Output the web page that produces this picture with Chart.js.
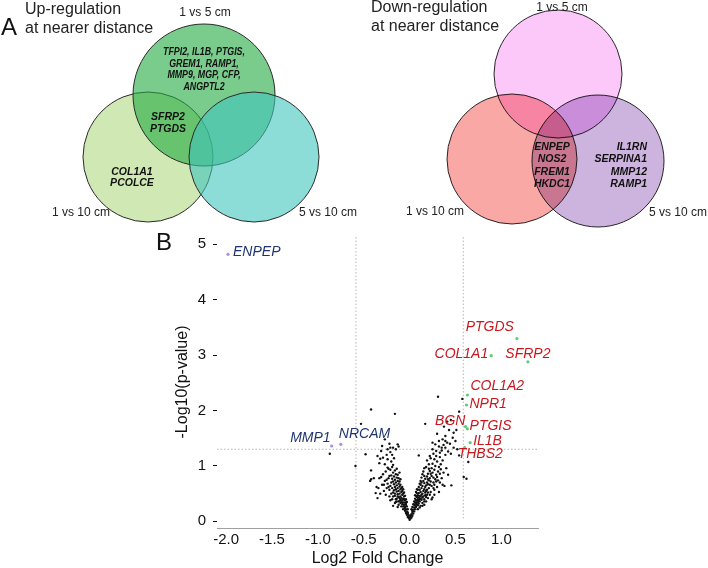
<!DOCTYPE html>
<html>
<head>
<meta charset="utf-8">
<script src="https://cdn.jsdelivr.net/npm/chart.js@4.4.1/dist/chart.umd.min.js"></script>
<style>
  html, body { margin: 0; padding: 0; background: #fff; }
  body { width: 708px; height: 568px; position: relative; overflow: hidden; }
  canvas { position: absolute; }
  #vennUp { left: 0; top: 0; }
  #vennDown { left: 354px; top: 0; }
  #volcano { left: 0; top: 220px; }
</style>
</head>
<body>
<canvas id="vennUp" width="372" height="228"></canvas>
<canvas id="vennDown" width="354" height="228"></canvas>
<canvas id="volcano" width="708" height="348"></canvas>
<script>
// ---- Panel A: gene sets ----
const setNames = ['1 vs 10 cm', '1 vs 5 cm', '5 vs 10 cm'];
const upTitle = ['Up-regulation', 'at nearer distance'];
const downTitle = ['Down-regulation', 'at nearer distance'];
const upOnly1vs5 = ['TFPI2, IL1B, PTGIS,', 'GREM1, RAMP1,', 'MMP9, MGP, CFP,', 'ANGPTL2'];
const upShared = ['SFRP2', 'PTGDS'];
const upOnly1vs10 = ['COL1A1', 'PCOLCE'];
const downShared = ['ENPEP', 'NOS2', 'FREM1', 'HKDC1'];
const downOnly5vs10 = ['IL1RN', 'SERPINA1', 'MMP12', 'RAMP1'];

// ---- Panel B: volcano ----
const xTicks = [-2.0, -1.5, -1.0, -0.5, 0.0, 0.5, 1.0];
const yTicks = [0, 1, 2, 3, 4, 5];
const fcCutoff = 0.585;   // log2(1.5)
const pCutoff = 1.301;    // -log10(0.05)

const upGenes = ['PTGDS', 'COL1A1', 'SFRP2', 'COL1A2', 'NPR1', 'BGN', 'PTGIS', 'IL1B', 'THBS2'];
const upFC    = [1.17, 0.89, 1.29, 0.63, 0.62, 0.63, 0.61, 0.66, 0.60];
const upP     = [3.30, 2.99, 2.88, 2.28, 2.10, 1.67, 1.71, 1.42, 1.33];
const downGenes = ['ENPEP', 'MMP1', 'NRCAM'];
const downFC    = [-1.98, -0.85, -0.75];
const downP     = [4.82, 1.36, 1.39];

// other genes: [log2FC, -log10 p]
const otherGenes = [
  [0.00,0.03],[0.01,0.05],[-0.01,0.06],[0.00,0.08],[0.02,0.07],[-0.02,0.08],[0.01,0.10],[-0.01,0.11],
  [0.03,0.10],[-0.03,0.12],[0.02,0.13],[-0.02,0.14],[0.04,0.14],[-0.04,0.15],[0.03,0.17],[-0.03,0.18],
  [0.05,0.18],[-0.05,0.19],[0.04,0.21],[-0.04,0.22],[0.06,0.22],[-0.06,0.23],[0.05,0.25],[-0.05,0.26],
  [0.07,0.26],[-0.07,0.27],[0.06,0.29],[-0.06,0.30],[0.08,0.30],[-0.08,0.31],[0.07,0.33],[-0.07,0.34],
  [0.09,0.34],[-0.09,0.35],[0.08,0.37],[-0.08,0.38],[0.03,0.20],[-0.02,0.16],[0.10,0.32],[-0.10,0.33],
  [0.11,0.36],[-0.11,0.37],[0.12,0.28],[-0.12,0.30],[0.14,0.33],[-0.13,0.26],[-0.15,0.35],[0.16,0.30],
  [-0.18,0.28],[0.18,0.36],[-0.05,0.34],[-0.06,0.40],[-0.04,0.30],[-0.07,0.22],[-0.09,0.27],[-0.10,0.39],
  [-0.11,0.42],[-0.12,0.36],[-0.14,0.41],[-0.13,0.45],[-0.16,0.46],[-0.15,0.40],[0.05,0.30],[0.06,0.34],
  [0.07,0.38],[0.09,0.29],[0.10,0.37],[0.11,0.40],[0.12,0.45],[0.13,0.39],[0.14,0.43],[0.16,0.40],
  [0.17,0.47],[0.18,0.44],[0.20,0.52],[0.22,0.48],
  [-0.09,0.42],[-0.07,0.41],[-0.10,0.45],[-0.08,0.48],[-0.12,0.44],[-0.11,0.50],[-0.09,0.53],[-0.13,0.49],
  [-0.12,0.55],[-0.10,0.58],[-0.14,0.54],[-0.13,0.60],[-0.11,0.63],[-0.15,0.58],[-0.14,0.65],[-0.12,0.68],
  [-0.16,0.62],[-0.15,0.70],[-0.13,0.73],[-0.17,0.67],[-0.16,0.75],[-0.14,0.79],[-0.18,0.72],[-0.17,0.81],
  [-0.19,0.77],[-0.15,0.85],[-0.20,0.83],[-0.18,0.88],[-0.21,0.64],[-0.22,0.57],[-0.20,0.50],[-0.24,0.68],
  [-0.23,0.78],[-0.25,0.60],[-0.26,0.48],[-0.28,0.55],[-0.27,0.73],[-0.30,0.66],[-0.29,0.85],[-0.32,0.50],
  [-0.33,0.78],[-0.35,0.42],[-0.37,0.51],[-0.36,0.62],[-0.42,0.76],[-0.43,0.73],[-0.42,0.92],[-0.21,0.93],
  [-0.24,0.97],[-0.19,0.98],[-0.26,0.90],[-0.16,0.92],[-0.22,0.45],[-0.18,0.52],[-0.19,0.40],
  [-0.02,0.22],[-0.03,0.27],[-0.04,0.33],[-0.05,0.38],[-0.06,0.45],[-0.07,0.50],[-0.08,0.55],[-0.09,0.60],
  [-0.10,0.66],[-0.11,0.72],[-0.04,0.40],[-0.05,0.46],[-0.06,0.52],[-0.08,0.62],[-0.03,0.35],[-0.12,0.78],
  [-0.13,0.84],[-0.10,0.76],[-0.07,0.58],[-0.16,0.50],[-0.17,0.56],[-0.19,0.60],[-0.20,0.70],[-0.22,0.82],
  [-0.14,0.36],[-0.16,0.33],[-0.18,0.45],[-0.21,0.38],[-0.23,0.62],[-0.25,0.75],[-0.28,0.66],[-0.31,0.80],
  [-0.34,0.60],[-0.39,0.78],[-0.32,1.13],[-0.23,0.95],[-0.18,1.02],[-0.14,0.95],[-0.11,0.88],
  [-0.27,1.03],[-0.33,1.05],[-0.20,1.08],[-0.24,1.12],[-0.29,1.15],[-0.17,1.14],[-0.25,1.20],[-0.31,1.27],
  [-0.21,1.25],[-0.18,1.33],[-0.13,1.39],[-0.12,1.35],[-0.21,1.33],[-0.22,1.40],[-0.27,1.48],[-0.15,1.30],
  [-0.24,1.30],[-0.35,1.18],[-0.48,1.21],[-0.59,1.00],[-0.53,1.76],[-0.42,2.02],[-0.16,1.94],[-0.87,1.22],
  [-0.30,1.36],[-0.19,1.20],
  [0.09,0.40],[0.10,0.43],[0.11,0.46],[0.12,0.41],[0.13,0.48],[0.10,0.51],[0.12,0.53],[0.14,0.50],
  [0.15,0.55],[0.11,0.57],[0.13,0.60],[0.16,0.58],[0.17,0.62],[0.14,0.64],[0.12,0.66],[0.18,0.65],
  [0.16,0.69],[0.19,0.70],[0.15,0.73],[0.20,0.67],[0.21,0.74],[0.17,0.77],[0.22,0.78],[0.19,0.81],
  [0.23,0.72],[0.24,0.82],[0.20,0.86],[0.25,0.88],[0.22,0.91],[0.26,0.79],[0.27,0.93],[0.18,0.55],
  [0.21,0.60],[0.24,0.64],[0.26,0.70],[0.28,0.76],[0.29,0.84],[0.31,0.90],[0.15,0.45],[0.19,0.48],
  [0.23,0.53],[0.27,0.57],[0.30,0.62],[0.33,0.70],[0.35,0.78],[0.32,0.53],[0.38,0.64],[0.455,0.65],
  [0.59,0.80],[0.62,0.77],[0.25,0.43],[0.13,0.70],[0.16,0.82],[0.21,0.95],[0.09,0.47],[0.08,0.44],
  [0.02,0.22],[0.03,0.26],[0.04,0.31],[0.05,0.36],[0.06,0.41],[0.07,0.46],[0.08,0.51],[0.09,0.57],
  [0.10,0.62],[0.11,0.68],[0.12,0.73],[0.13,0.79],[0.14,0.85],[0.15,0.90],[0.06,0.47],[0.07,0.53],
  [0.08,0.58],[0.17,0.52],[0.19,0.57],[0.20,0.76],[0.22,0.66],[0.23,0.86],[0.24,0.96],[0.26,0.60],
  [0.27,0.66],[0.29,0.72],[0.30,0.80],[0.31,0.74],[0.33,0.86],[0.34,0.94],[0.36,0.66],[0.37,0.88],
  [0.40,0.96],[0.42,0.84],[0.21,1.03],[0.23,1.14],[0.18,0.98],[0.16,0.96],[0.29,1.18],[0.33,1.24],
  [0.37,1.38],[0.27,0.48],[0.24,0.40],[0.20,0.42],[0.16,0.36],[0.14,0.28],[0.11,0.25],[0.09,0.22],
  [0.28,1.00],[0.32,0.98],[0.25,1.04],[0.30,1.08],[0.34,1.03],[0.27,1.12],[0.36,1.10],[0.19,1.10],
  [0.22,1.18],[0.33,1.16],[0.26,1.22],[0.39,1.20],[0.29,1.27],[0.35,1.28],[0.42,1.26],[0.25,1.30],
  [0.32,1.35],[0.39,1.33],[0.28,1.39],[0.35,1.33],[0.45,1.22],[0.54,1.19],[0.48,1.33],[0.52,1.30],
  [0.41,1.42],[0.36,1.48],[0.39,1.45],[0.32,1.45],[0.25,1.42],[0.50,1.45],[0.47,1.51],[0.39,1.54],
  [0.43,1.65],[0.48,1.60],[0.51,1.65],[0.375,1.71],[0.41,1.80],[0.45,1.83],[0.54,1.98],[0.575,2.21],
  [0.31,2.25],[0.17,1.76],[0.64,1.07],[0.10,1.19],[0.30,1.58],[0.44,1.40]
];

// label placement around each point: [dx, dy, align] in px
const labelPlacement = {
  PTGDS: [-3, -11, 'right'], COL1A1: [-3, -2, 'right'], SFRP2: [0, -8, 'center'],
  COL1A2: [3, -9, 'left'], NPR1: [3, -1, 'left'], BGN: [-2, -8, 'right'],
  PTGIS: [4, 0, 'left'], IL1B: [3, -2, 'left'], THBS2: [-7, 6, 'left'],
  ENPEP: [5, -2, 'left'], MMP1: [-1, -8, 'right'], NRCAM: [-2, -10, 'left']
};

const FONT = '"Liberation Sans", Arial, Helvetica, sans-serif';
Chart.defaults.font.family = FONT;

function drawText(ctx, text, x, y, font, color, align, squeeze) {
  ctx.save();
  ctx.font = font;
  ctx.fillStyle = color;
  ctx.textAlign = align || 'left';
  ctx.textBaseline = 'middle';
  ctx.translate(x, y);
  if (squeeze) ctx.scale(squeeze, 1);
  ctx.fillText(text, 0, 0);
  ctx.restore();
}

// ---- Venn diagrams ----
const upLayout = {
  width: 372,
  circles: [{x: 148, y: 157, r: 65}, {x: 204, y: 95, r: 71}, {x: 254, y: 157, r: 65}],
  colors: ['rgba(177,217,130,0.6)', 'rgba(33,170,63,0.6)', 'rgba(63,197,188,0.6)'],
  blend: 'source-over',
  title: {x: 25, y: [9.5, 28.5]},
  letter: {text: 'A', x: 1, y: 28},
  setLabels: [[81, 213, 'center'], [205, 12.5, 'center'], [299, 213, 'left']],
  blocks: [
    {lines: upOnly1vs5, x: 204, y: 52, step: 11.8, align: 'center', squeeze: 0.84},
    {lines: upShared, x: 168, y: 117.5, step: 11.8, align: 'center'},
    {lines: upOnly1vs10, x: 132, y: 171.7, step: 11.5, align: 'center'}
  ]
};
const downLayout = {
  width: 354,
  circles: [{x: 158, y: 159, r: 65}, {x: 204, y: 74, r: 64}, {x: 244, y: 161, r: 66}],
  colors: ['rgb(250,168,165)', 'rgb(252,200,250)', 'rgb(205,180,222)'],
  blend: 'multiply',
  title: {x: 17, y: [8, 27]},
  setLabels: [[81, 212, 'center'], [208, 7.5, 'center'], [324, 212.5, 'center']],
  blocks: [
    {lines: downShared, x: 198, y: 147, step: 12.5, align: 'center'},
    {lines: downOnly5vs10, x: 293, y: 147, step: 12.5, align: 'right'}
  ]
};

const blendPlugin = {
  id: 'blend',
  beforeDatasetsDraw(chart, args, opts) {
    chart.ctx.save();
    chart.ctx.globalCompositeOperation = opts.mode || 'source-over';
  },
  afterDatasetsDraw(chart) {
    chart.ctx.restore();
  }
};

function vennTextPlugin(layout, title) {
  return {
    id: 'vennText',
    afterDraw(chart) {
      const {ctx, scales: {x, y}} = chart;
      const px = v => x.getPixelForValue(v);
      const py = v => y.getPixelForValue(v);
      title.forEach((t, i) => drawText(ctx, t, px(layout.title.x), py(layout.title.y[i]), '16px ' + FONT, '#222', 'left'));
      if (layout.letter) drawText(ctx, layout.letter.text, px(layout.letter.x), py(layout.letter.y), '24px ' + FONT, '#111', 'left');
      setNames.forEach((s, i) => {
        const [lx, ly, al] = layout.setLabels[i];
        drawText(ctx, s, px(lx), py(ly), '12px ' + FONT, '#222', al);
      });
      layout.blocks.forEach(b => {
        b.lines.forEach((line, i) => drawText(ctx, line, px(b.x), py(b.y + i * b.step),
          'italic bold 10.5px ' + FONT, '#111', b.align, b.squeeze));
      });
    }
  };
}

function makeVenn(id, layout, title) {
  return new Chart(document.getElementById(id), {
    type: 'bubble',
    data: {
      datasets: [{
        data: layout.circles,
        backgroundColor: layout.colors,
        borderColor: '#2a2a2a',
        borderWidth: 1,
        clip: false
      }]
    },
    options: {
      responsive: false,
      animation: false,
      events: [],
      layout: {padding: 0, autoPadding: false},
      plugins: {legend: {display: false}, tooltip: {enabled: false}, blend: {mode: layout.blend}},
      scales: {
        x: {display: false, min: 0, max: layout.width},
        y: {display: false, min: 0, max: 228, reverse: true}
      }
    },
    plugins: [blendPlugin, vennTextPlugin(layout, title)]
  });
}

makeVenn('vennUp', upLayout, upTitle);
makeVenn('vennDown', downLayout, downTitle);

// ---- Volcano plot ----
const geneLabelPlugin = {
  id: 'geneLabels',
  afterDatasetsDraw(chart) {
    const {ctx, scales: {x, y}} = chart;
    const put = (names, fcs, ps, color) => names.forEach((g, i) => {
      const [dx, dy, al] = labelPlacement[g];
      drawText(ctx, g, x.getPixelForValue(fcs[i]) + dx, y.getPixelForValue(ps[i]) + dy,
        'italic 14px ' + FONT, color, al);
    });
    put(upGenes, upFC, upP, '#c8161d');
    put(downGenes, downFC, downP, '#1f3470');
    // panel letter
    ctx.save();
    ctx.font = '24px ' + FONT;
    ctx.fillStyle = '#111';
    ctx.textBaseline = 'alphabetic';
    ctx.fillText('B', 156, 30);
    ctx.restore();
  }
};

const cutoffLine = pts => ({
  data: pts, showLine: true, pointRadius: 0, borderColor: '#b4b4b4',
  borderWidth: 1, borderDash: [1.5, 2], fill: false
});

new Chart(document.getElementById('volcano'), {
  type: 'scatter',
  data: {
    datasets: [
      {
        data: downGenes.map((g, i) => ({x: downFC[i], y: downP[i]})),
        pointRadius: 1.6, backgroundColor: '#a88de0', borderWidth: 0
      },
      {
        data: upGenes.map((g, i) => ({x: upFC[i], y: upP[i]})),
        pointRadius: 1.6, backgroundColor: '#5fcb78', borderWidth: 0
      },
      {
        data: otherGenes.map(p => ({x: p[0], y: p[1]})),
        pointRadius: 1.2, backgroundColor: '#111', borderWidth: 0
      },
      cutoffLine([{x: -fcCutoff, y: 0.05}, {x: -fcCutoff, y: 5.15}]),
      cutoffLine([{x: fcCutoff, y: 0.05}, {x: fcCutoff, y: 5.15}]),
      cutoffLine([{x: -2.1, y: pCutoff}, {x: 1.4, y: pCutoff}])
    ]
  },
  options: {
    responsive: false,
    animation: false,
    events: [],
    layout: {padding: {left: 169, right: 170, top: 7, bottom: 0}, autoPadding: false},
    plugins: {legend: {display: false}, tooltip: {enabled: false}},
    scales: {
      x: {
        min: -2.1, max: 1.4,
        afterBuildTicks: s => { s.ticks = xTicks.map(v => ({value: v})); },
        afterFit: s => { s.height = 40; },
        grid: {display: false, drawTicks: false},
        border: {display: true, color: '#a0a0a0', width: 1},
        ticks: {padding: 3, color: '#111', font: {size: 15}, callback: v => Number(v).toFixed(1)},
        title: {display: true, text: 'Log2 Fold Change', color: '#111', font: {size: 16}, padding: {top: 0, bottom: 0}}
      },
      y: {
        min: -0.12, max: 5.15,
        afterBuildTicks: s => { s.ticks = yTicks.map(v => ({value: v})); },
        afterFit: s => { s.width = 48; },
        border: {display: false},
        grid: {drawOnChartArea: false, drawTicks: true, tickLength: 4, color: '#111', lineWidth: 1},
        ticks: {padding: 7, color: '#111', font: {size: 15}},
        title: {display: true, text: '-Log10(p-value)', color: '#111', font: {size: 16}, padding: {top: 4, bottom: 0}}
      }
    }
  },
  plugins: [geneLabelPlugin]
});
</script>
</body>
</html>
